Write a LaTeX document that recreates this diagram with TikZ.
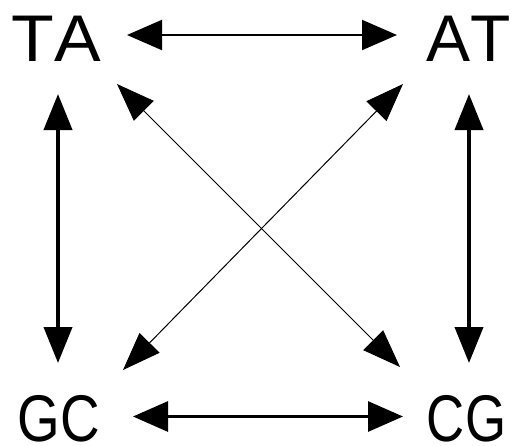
\documentclass[tikz,border=0pt]{standalone}
\usepackage{fontspec}
\usepackage{graphicx}
\newfontfamily\lab{Liberation Sans}[Kerning=Off]
\usetikzlibrary{arrows.meta,calc}
\tikzset{
  lbl/.style={inner sep=0pt, anchor=base, font=\lab\fontsize{66}{66}\selectfont},
  bigtip/.style={Triangle[length=35pt,width=30pt]},
  link/.style={draw=black, {Triangle[length=35pt,width=30pt]}-{Triangle[length=35pt,width=30pt]}},
  vlink/.style={draw=black, {Triangle[length=36pt,width=28pt]}-{Triangle[length=36pt,width=28pt]}},
  dlink/.style={draw=black, line width=1pt, {Triangle[length=38pt,width=28pt]}-{Triangle[length=38pt,width=28pt]}}
}
\begin{document}
\begin{tikzpicture}[x=1pt,y=-1pt]
\useasboundingbox[fill=white] (0,0) rectangle (511,445);
\node[lbl] (TA) at (56,61) {\scalebox{1.06}[1]{TA}};
\node[lbl] (AT) at (469,61) {\scalebox{1.0}[1]{AT}};
\node[lbl] (GC) at (59,441) {\scalebox{0.83}[1]{GC}};
\node[lbl] (CG) at (466.5,441) {\scalebox{0.80}[1]{CG}};
% horizontal
\draw[link, line width=2pt] ($(TA.base)+(71,-26)$) -- ($(AT.base)+(-72,-26)$);
\draw[link, line width=3pt] ($(GC.base)+(74,-24.5)$) -- ($(CG.base)+(-63.5,-24.5)$);
% vertical
\draw[vlink, line width=4pt] ($(TA.base)+(2,33)$) -- ($(GC.base)+(-1,-78)$);
\draw[vlink, line width=4pt] ($(AT.base)+(0,33)$) -- ($(CG.base)+(2.5,-78)$);
% diagonals
\draw[dlink] ($(TA.base)+(61,23)$) -- ($(CG.base)+(-66.5,-74)$);
\draw[dlink] ($(AT.base)+(-66,23)$) -- ($(GC.base)+(64,-71)$);
\end{tikzpicture}
\end{document}
